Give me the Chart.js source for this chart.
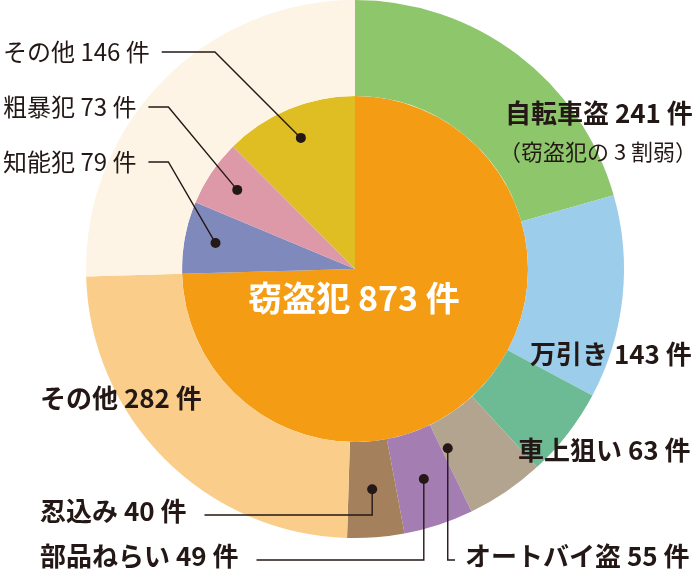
<!DOCTYPE html>
<html lang="ja">
<head>
<meta charset="UTF-8">
<title>刑法犯の内訳</title>
<script src="https://cdn.jsdelivr.net/npm/chart.js@4.4.0/dist/chart.umd.min.js"></script>
<style>
  body { margin: 0; background: #fff; }
  #wrap { width: 700px; height: 571px; }
</style>
</head>
<body>
<div id="wrap"><canvas id="grafik" width="700" height="571"></canvas></div>
<script>
// ======================
// DATA
// ======================

const innerLabels = ["窃盗犯", "知能犯", "粗暴犯", "その他"];
const innerValues = [873, 79, 73, 146];

// breakdown of 窃盗犯
const outerLabels = ["自転車盗", "万引き", "車上狙い", "オートバイ盗", "部品ねらい", "忍込み", "その他"];
const outerValues = [241, 143, 63, 55, 49, 40, 282];

const unit = "件";
const note = "（窃盗犯の 3 割弱）";

// ======================
// STYLE
// ======================

const INK = "#231815";
const FONT = "'Noto Sans CJK JP', 'Noto Sans', sans-serif";

const innerColors = ["#F49C14", "#7F89BB", "#DE99A8", "#DFBE24"];
const outerColors = ["#8EC66C", "#9CCDEA", "#6DBB94", "#B3A48F", "#A47DB2", "#A4805C", "#FACE8A", "#FEF4E6"];

// where each label sits (text left / middle), and how it is tied to its slice
const outerText = [
    { x: 505, y: 113, size: 26, weight: "bold" },
    { x: 530, y: 354, size: 26, weight: "bold" },
    { x: 518, y: 450, size: 26, weight: "bold" },
    { x: 465, y: 556, size: 26, weight: "bold", leader: "right", frac: 0.9, rf: 0.3 },
    { x: 40, y: 556, size: 26, weight: "bold", leader: "left" },
    { x: 40, y: 511, size: 26, weight: "bold", leader: "left" },
    { x: 40, y: 398, size: 26, weight: "bold" }
];

const innerText = [
    { x: 354, y: 298, size: 34, weight: "bold", color: "#fff", align: "center" },
    { x: 3, y: 162, size: 24, weight: "normal", leader: "diag" },
    { x: 3, y: 107, size: 24, weight: "normal", leader: "diag" },
    { x: 3, y: 52, size: 24, weight: "normal", leader: "diag" }
];

// ======================
// LABEL PLUGIN
// ======================

function titik(el, frac, rf) {
    const a = el.startAngle + (el.endAngle - el.startAngle) * frac;
    const r = el.innerRadius + (el.outerRadius - el.innerRadius) * rf;
    return { x: el.x + r * Math.cos(a), y: el.y + r * Math.sin(a) };
}

function tulis(ctx, teks, t) {
    ctx.font = t.weight + " " + t.size + "px " + FONT;
    ctx.fillStyle = t.color || INK;
    ctx.textAlign = t.align || "left";
    ctx.textBaseline = "middle";
    ctx.fillText(teks, t.x, t.y);
    return ctx.measureText(teks).width;
}

function garis(ctx, el, t, lebar, rf) {
    const p = titik(el, t.frac == null ? 0.5 : t.frac, t.rf == null ? rf : t.rf);

    ctx.strokeStyle = INK;
    ctx.lineWidth = 1.4;
    ctx.beginPath();

    if (t.leader === "diag") {
        const mulai = t.x + lebar + 12;
        const siku = Math.max(p.x - (p.y - t.y), mulai + 20);
        ctx.moveTo(mulai, t.y);
        ctx.lineTo(siku, t.y);
        ctx.lineTo(p.x, p.y);
    } else if (t.leader === "left") {
        const mulai = t.x + lebar + 18;
        ctx.moveTo(mulai, t.y + 4);
        ctx.lineTo(p.x, t.y + 4);
        ctx.lineTo(p.x, p.y);
    } else if (t.leader === "right") {
        ctx.moveTo(p.x, p.y);
        ctx.lineTo(p.x, t.y + 4);
        ctx.lineTo(t.x - 10, t.y + 4);
    }
    ctx.stroke();

    ctx.fillStyle = INK;
    ctx.beginPath();
    ctx.arc(p.x, p.y, 5, 0, Math.PI * 2);
    ctx.fill();
}

const labelPlugin = {
    id: "labelPlugin",
    afterDraw(chart) {
        const ctx = chart.ctx;
        const luar = chart.getDatasetMeta(0).data;
        const dalam = chart.getDatasetMeta(1).data;

        ctx.save();

        outerText.forEach((t, i) => {
            const teks = outerLabels[i] + " " + outerValues[i] + " " + unit;
            const lebar = tulis(ctx, teks, t);
            if (t.leader) garis(ctx, luar[i], t, lebar, 0.5);
        });

        tulis(ctx, note, { x: 499, y: 152, size: 22, weight: "normal" });

        innerText.forEach((t, i) => {
            const teks = innerLabels[i] + " " + innerValues[i] + " " + unit;
            const lebar = tulis(ctx, teks, t);
            if (t.leader) garis(ctx, dalam[i], t, lebar, 0.82);
        });

        ctx.restore();
    }
};

// ======================
// GRAFIK
// ======================

// outer ring: the 窃盗犯 breakdown, then the rest of the inner pie as one slice
const sisa = innerValues.slice(1).reduce((a, b) => a + b, 0);

new Chart(document.getElementById("grafik"), {

    type: "doughnut",

    data: {
        labels: outerLabels.concat(["窃盗犯以外"]),
        datasets: [
            {
                data: outerValues.concat([sisa]),
                backgroundColor: outerColors,
                borderWidth: 0,
                weight: 96
            },
            {
                data: innerValues,
                backgroundColor: innerColors,
                borderWidth: 0,
                weight: 173
            }
        ]
    },

    options: {
        responsive: false,
        animation: false,
        events: [],
        cutout: 0,
        hoverOffset: 0,
        layout: { padding: { left: 10, right: 0, top: 0, bottom: 33 } },
        plugins: {
            legend: { display: false },
            tooltip: { enabled: false }
        }
    },

    plugins: [labelPlugin]

});
</script>
</body>
</html>
